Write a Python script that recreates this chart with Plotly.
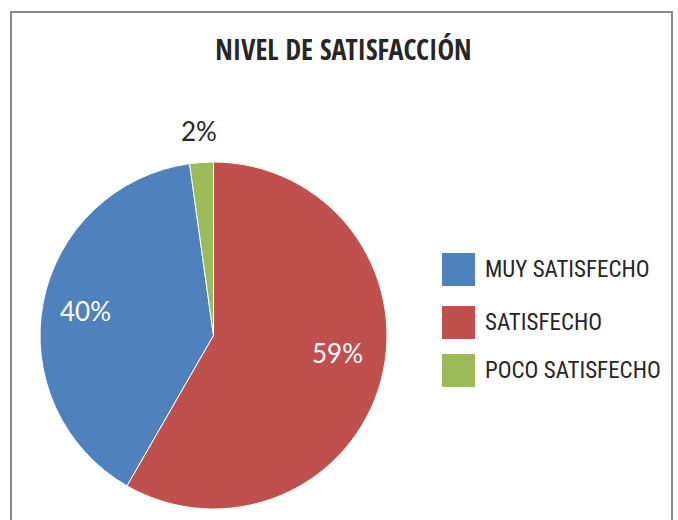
import math
import plotly.graph_objects as go

# ---- data ----
categories = ["MUY SATISFECHO", "SATISFECHO", "POCO SATISFECHO"]
values = [39.5, 58.3, 2.2]
value_labels = ["40%", "59%", "2%"]
title_text = "NIVEL DE SATISFACCIÓN"

# ---- styling ----
colors = ["#4F81BD", "#C0504D", "#9BBB59"]
label_radius = [0.75, 0.72, 1.18]      # fraction of pie radius for each label
label_nudge_deg = [0, -7, 0]           # small angular nudge (best-fit placement)
label_colors = ["white", "white", "#262626"]
TXT = "#262626"
F_TITLE = "Open Sans Condensed, Roboto Condensed, sans-serif"
F_LEG = "Roboto Condensed, DejaVu Sans Condensed, sans-serif"
F_LAB = "Lato, Roboto, sans-serif"
W, H = 678, 520

# pie box (paper fractions)
dom_x = [40 / W, 387 / W]
dom_y = [11 / H, 358 / H]

total = sum(values)
angles = [360 * v / total for v in values]
rotation = angles[1]

fig = go.Figure()
fig.add_trace(go.Pie(
    labels=categories,
    values=values,
    textinfo="none",
    sort=False,
    direction="counterclockwise",
    rotation=rotation,
    marker=dict(colors=colors, line=dict(color="white", width=1)),
    domain=dict(x=dom_x, y=dom_y),
    showlegend=False,
    hoverinfo="label+percent",
))

annotations = []
# data labels at each slice's mid-angle
cx_px = (dom_x[0] + dom_x[1]) / 2 * W
cy_px = H - (dom_y[0] + dom_y[1]) / 2 * H
r_px = min((dom_x[1] - dom_x[0]) * W, (dom_y[1] - dom_y[0]) * H) / 2
start = rotation + angles[0]
for i, (lab, a) in enumerate(zip(value_labels, angles)):
    mid = math.radians(start - a / 2 + label_nudge_deg[i])
    start -= a
    xp = cx_px + label_radius[i] * r_px * math.sin(mid)
    yp = cy_px - label_radius[i] * r_px * math.cos(mid)
    annotations.append(dict(text=lab, xref="paper", yref="paper", x=xp / W, y=1 - yp / H,
                            xanchor="center", yanchor="middle", showarrow=False,
                            font=dict(family=F_LAB, size=26, color=label_colors[i])))

shapes = [dict(type="rect", xref="paper", yref="paper",
               x0=11 / W, x1=672 / W, y0=-0.05, y1=1 - 12 / H,
               line=dict(color="#898989", width=2), fillcolor="rgba(0,0,0,0)")]
# legend with large square swatches
leg_y = [269.5, 322.5, 370.5]
for cat, col, yc in zip(categories, colors, leg_y):
    shapes.append(dict(type="rect", xref="paper", yref="paper",
                       x0=442 / W, x1=475 / W,
                       y0=1 - (yc + 16.5) / H, y1=1 - (yc - 16.5) / H,
                       line=dict(width=0), fillcolor=col))
    annotations.append(dict(text=cat, xref="paper", yref="paper",
                            x=483 / W, y=1 - yc / H, xanchor="left", yanchor="middle",
                            showarrow=False,
                            font=dict(family=F_LEG, size=23, color=TXT)))

fig.update_layout(
    width=W, height=H,
    margin=dict(l=0, r=0, t=0, b=0),
    paper_bgcolor="white", plot_bgcolor="white",
    title=dict(text="<b>" + title_text + "</b>", x=343.5 / W, xanchor="center",
               y=1 - 50.5 / H, yanchor="middle", yref="container",
               font=dict(family=F_TITLE, size=28, color=TXT)),
    shapes=shapes,
    annotations=annotations,
)

fig.write_html("out.html", config={"displayModeBar": False},
               post_script="document.body.style.margin='0';document.body.style.overflow='hidden';")
